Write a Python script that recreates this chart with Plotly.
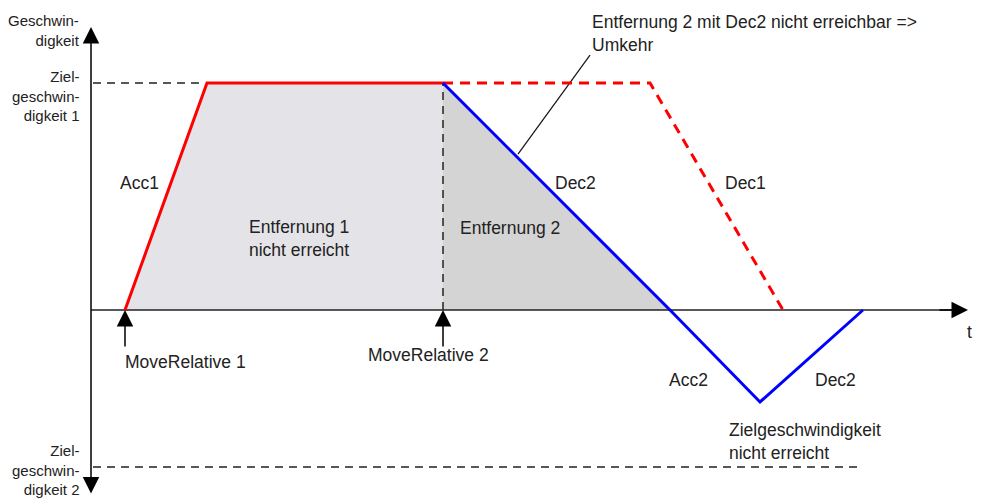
import plotly.graph_objects as go

# ---- data (time in arbitrary units, velocity normalised to target velocity 1) ----
t_start1 = 0.34       # MoveRelative 1
t_acc1_end = 1.16     # target velocity 1 reached
t_start2 = 3.52       # MoveRelative 2
t_dec1_start = 5.59
t_dec1_end = 6.92
t_zero = 5.79         # blue crosses zero (reversal)
t_min = 6.69
t_end = 7.72
t_axis_end = 8.77

v_target1 = 1.0
v_min = -0.405
v_target2 = -0.692
v_axis_top = 1.247
v_axis_bottom = -0.815

acc1_t = [t_start1, t_acc1_end, t_start2]
acc1_v = [0, v_target1, v_target1]
dec1_t = [t_start2, t_dec1_start, t_dec1_end]
dec1_v = [v_target1, v_target1, 0]
dec2_t = [t_start2, t_zero, t_min, t_end]
dec2_v = [v_target1, 0, v_min, 0]
area1_t = [t_start1, t_acc1_end, t_start2, t_start2, t_start1]
area1_v = [0, v_target1, v_target1, 0, 0]
area2_t = [t_start2, t_zero, t_start2, t_start2]
area2_v = [v_target1, 0, 0, v_target1]
callout_t = [4.99, 4.27]
callout_v = [1.123, 0.687]

FONT = "Liberation Sans, Arial, sans-serif"
TXT = "#222222"

fig = go.Figure()
fig.add_trace(go.Scatter(x=area1_t, y=area1_v, fill="toself", fillcolor="#e4e4e8",
                         line=dict(width=0), mode="lines", hoverinfo="skip"))
fig.add_trace(go.Scatter(x=area2_t, y=area2_v, fill="toself", fillcolor="#d4d4d4",
                         line=dict(width=0), mode="lines", hoverinfo="skip"))
# dashed reference lines
fig.add_trace(go.Scatter(x=[0.02, 1.09], y=[v_target1, v_target1], mode="lines",
                         line=dict(color="#222", width=1.5, dash="8px,6px")))
fig.add_trace(go.Scatter(x=[t_start2, t_start2], y=[0, v_target1], mode="lines",
                         line=dict(color="#222", width=1.5, dash="8px,6px")))
fig.add_trace(go.Scatter(x=[0.02, t_end], y=[v_target2, v_target2], mode="lines",
                         line=dict(color="#222", width=1.5, dash="8px,6px")))
# t-axis line
fig.add_trace(go.Scatter(x=[0, t_axis_end - 0.1], y=[0, 0], mode="lines",
                         line=dict(color="#222", width=1.5)))
# callout line
fig.add_trace(go.Scatter(x=callout_t, y=callout_v, mode="lines",
                         line=dict(color="#111", width=1.2)))
# profiles
fig.add_trace(go.Scatter(x=dec1_t, y=dec1_v, mode="lines",
                         line=dict(color="#ff0000", width=3, dash="10px,7px")))
fig.add_trace(go.Scatter(x=acc1_t, y=acc1_v, mode="lines",
                         line=dict(color="#ff0000", width=3)))
fig.add_trace(go.Scatter(x=dec2_t, y=dec2_v, mode="lines",
                         line=dict(color="#0000ff", width=3)))

def arrow(x, y, ax, ay, side="end"):
    fig.add_annotation(x=x, y=y, ax=ax, ay=ay, xref="x", yref="y", axref="x", ayref="y",
                       text="", showarrow=True, arrowhead=2, arrowsize=2.2,
                       arrowwidth=1.5, arrowcolor="#000", arrowside=side)

arrow(0, v_axis_top, 0, v_axis_bottom, side="end+start")
arrow(t_axis_end, 0, t_axis_end - 0.3, 0)
arrow(t_start1, 0, t_start1, -0.167)
arrow(t_start2, 0, t_start2, -0.167)

def label(x, y, text, size=17.5, xanchor="left", align="left"):
    fig.add_annotation(x=x, y=y, xref="x", yref="y", text=text, showarrow=False,
                       xanchor=xanchor, yanchor="middle", align=align,
                       font=dict(family=FONT, size=size, color=TXT))

label(-0.09, 1.233, "Geschwin-<br>digkeit", size=15, xanchor="right", align="right")
label(-0.09, 0.943, "Ziel-<br>geschwin-<br>digkeit 1", size=15, xanchor="right", align="right")
label(-0.09, -0.705, "Ziel-<br>geschwin-<br>digkeit 2", size=15, xanchor="right", align="right")
label(0.27, 0.559, "Acc1")
label(1.56, 0.313, "Entfernung 1<br>nicht erreicht")
label(3.67, 0.361, "Entfernung 2")
label(4.62, 0.559, "Dec2")
label(6.32, 0.559, "Dec1")
label(4.99, 1.216, "Entfernung 2 mit Dec2 nicht erreichbar =><br>Umkehr")
label(0.32, -0.229, "MoveRelative 1")
label(2.75, -0.198, "MoveRelative 2")
label(5.76, -0.308, "Acc2")
label(7.22, -0.308, "Dec2")
label(6.36, -0.581, "Zielgeschwindigkeit<br>nicht erreicht")
label(8.74, -0.097, "t")

# page body adds an 8px margin; size and ranges compensate so the drawing sits where the reference does
fig.update_layout(
    width=975, height=493, margin=dict(l=0, r=0, t=0, b=0),
    paper_bgcolor="white", plot_bgcolor="white", showlegend=False,
    xaxis=dict(range=[-0.83, 8.92], visible=False, fixedrange=True),
    yaxis=dict(range=[-0.8414, 1.3304], visible=False, fixedrange=True),
)
fig.write_html("out.html")
